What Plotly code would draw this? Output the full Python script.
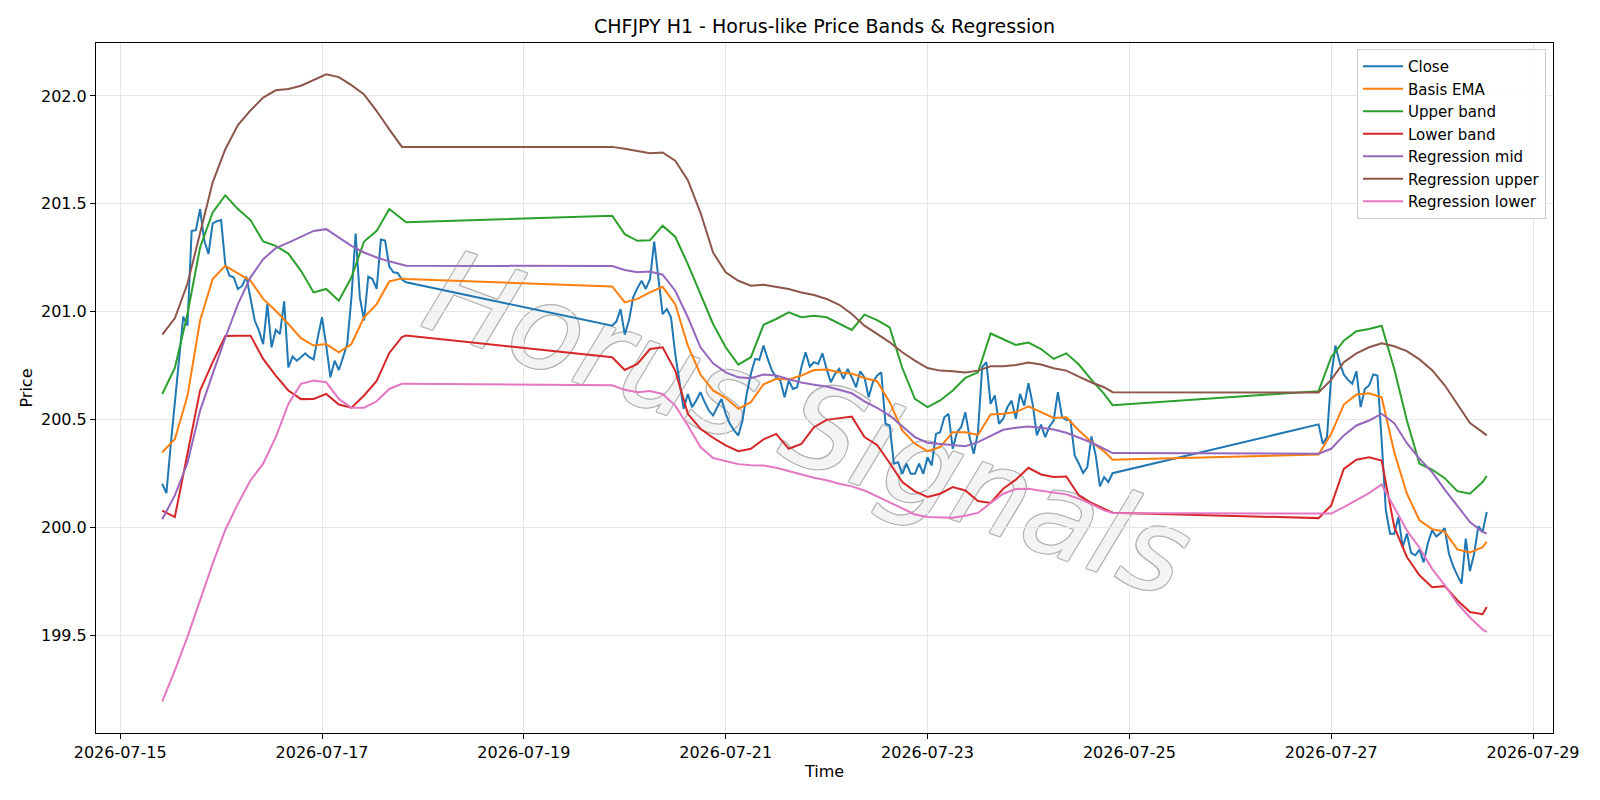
import pandas as pd
import plotly.graph_objects as go

# ---------------- data ----------------
base_time = pd.Timestamp("2026-07-15 00:00")

# hourly Close, three trading segments (hour offsets from 2026-07-15 00:00)
close_segments = [(10, 68), (117, 236), (285, 325)]
close_values = [
    # 07-15 10:00 .. 07-17 20:00
    200.204, 200.161, 200.38, 200.58, 200.79, 200.978, 200.936, 201.375, 201.378, 201.476,
    201.33, 201.268, 201.41, 201.42, 201.425, 201.22, 201.167, 201.16, 201.106, 201.12,
    201.163, 201.067, 200.96, 200.913, 200.85, 201.036, 200.836, 200.916, 200.898, 201.049,
    200.743, 200.793, 200.774, 200.79, 200.808, 200.79, 200.78, 200.882, 200.975, 200.844,
    200.697, 200.774, 200.731, 200.79, 200.852, 201.067, 201.363, 201.067, 200.96, 201.163,
    201.152, 201.106, 201.335, 201.33, 201.21, 201.183, 201.18, 201.15, 201.137,
    # 07-19 21:00 .. 07-24 20:00
    200.936, 200.955, 201.013, 200.895, 200.96, 201.067, 201.11, 201.144, 201.106, 201.152,
    201.325, 201.16, 200.99, 201.013, 200.975, 200.805, 200.682, 200.551, 200.62, 200.559,
    200.59, 200.628, 200.582, 200.543, 200.52, 200.559, 200.597, 200.528, 200.482, 200.451,
    200.428, 200.497, 200.62, 200.713, 200.782, 200.778, 200.844, 200.782, 200.728, 200.697,
    200.682, 200.605, 200.682, 200.643, 200.651, 200.744, 200.813, 200.747, 200.767, 200.759,
    200.808, 200.736, 200.674, 200.713, 200.736, 200.69, 200.736, 200.697, 200.651, 200.725,
    200.697, 200.605, 200.674, 200.705, 200.72, 200.482, 200.474, 200.297, 200.304, 200.25,
    200.297, 200.25, 200.25, 200.297, 200.25, 200.327, 200.289, 200.435, 200.443, 200.512,
    200.528, 200.366, 200.443, 200.466, 200.535, 200.42, 200.343, 200.443, 200.744, 200.767,
    200.574, 200.613, 200.482, 200.505, 200.559, 200.589, 200.505, 200.62, 200.566, 200.67,
    200.574, 200.428, 200.478, 200.42, 200.469, 200.497, 200.628, 200.512, 200.5, 200.497,
    200.335, 200.297, 200.254, 200.281, 200.423, 200.335, 200.192, 200.235, 200.212, 200.253,
    # 07-26 21:00 .. 07-28 13:00
    200.479, 200.389, 200.42, 200.7, 200.844, 200.767, 200.71, 200.685, 200.667, 200.725,
    200.559, 200.643, 200.659, 200.71, 200.705, 200.404, 200.081, 199.973, 199.973, 200.05,
    199.911, 199.973, 199.884, 199.873, 199.899, 199.84, 199.93, 199.988, 199.96, 199.976,
    199.998, 199.88, 199.823, 199.78, 199.742, 199.95, 199.8, 199.88, 200.008, 199.98,
    200.073,
]

# sample hours used for the smooth band / regression series
band_hours = (
    [10, 13, 16, 19, 22, 25, 28, 31, 34, 37, 40, 43, 46, 49, 52, 55, 58, 61, 64, 67, 68]
    + [117, 120, 123, 126, 129, 132, 135, 138, 141, 144, 147, 150, 153, 156, 159, 162, 165,
       168, 171, 174, 177, 180, 183, 186, 189, 192, 195, 198, 201, 204, 207, 210, 213, 216,
       219, 222, 225, 228, 231, 234, 236]
    + [285, 288, 291, 294, 297, 300, 303, 306, 309, 312, 315, 318, 321, 324, 325]
)

basis_ema = [
    200.35, 200.41, 200.61, 200.96, 201.152, 201.213, 201.178, 201.144, 201.06, 201.005,
    200.944, 200.878, 200.844, 200.851, 200.813, 200.851, 200.975, 201.036, 201.141, 201.155, 201.152,
    201.118, 201.044, 201.06, 201.09, 201.116, 201.036, 200.844, 200.71, 200.636, 200.602,
    200.551, 200.582, 200.665, 200.69, 200.687, 200.705, 200.731, 200.733, 200.72, 200.714,
    200.694, 200.679, 200.582, 200.451, 200.389, 200.355, 200.374, 200.443, 200.443, 200.43,
    200.525, 200.528, 200.536, 200.562, 200.536, 200.509, 200.512, 200.451, 200.397, 200.354, 200.315,
    200.34, 200.435, 200.571, 200.617, 200.623, 200.605, 200.35, 200.158, 200.035, 199.994,
    199.982, 199.9, 199.886, 199.911, 199.935,
]
upper_band = [
    200.62, 200.74, 200.99, 201.298, 201.46, 201.54, 201.476, 201.425, 201.326, 201.306,
    201.27, 201.19, 201.09, 201.106, 201.052, 201.16, 201.326, 201.375, 201.476, 201.43, 201.415,
    201.445, 201.36, 201.329, 201.332, 201.399, 201.348, 201.221, 201.083, 200.944, 200.836,
    200.756, 200.79, 200.94, 200.967, 200.998, 200.975, 200.982, 200.975, 200.944, 200.916,
    200.987, 200.962, 200.928, 200.74, 200.597, 200.559, 200.59, 200.636, 200.694, 200.72,
    200.9, 200.875, 200.847, 200.858, 200.828, 200.782, 200.808, 200.756, 200.685, 200.62, 200.568,
    200.633, 200.79, 200.867, 200.91, 200.921, 200.936, 200.736, 200.497, 200.297, 200.27,
    200.23, 200.17, 200.158, 200.212, 200.24,
]
lower_band = [
    200.08, 200.05, 200.343, 200.636, 200.767, 200.888, 200.89, 200.89, 200.782, 200.705,
    200.636, 200.596, 200.597, 200.62, 200.571, 200.556, 200.613, 200.68, 200.81, 200.883, 200.89,
    200.79, 200.731, 200.759, 200.828, 200.836, 200.728, 200.528, 200.459, 200.417, 200.382,
    200.355, 200.366, 200.41, 200.435, 200.366, 200.389, 200.466, 200.5, 200.509, 200.515,
    200.42, 200.384, 200.3, 200.212, 200.169, 200.143, 200.158, 200.189, 200.173, 200.124,
    200.115, 200.181, 200.223, 200.278, 200.247, 200.235, 200.238, 200.15, 200.115, 200.09, 200.07,
    200.045, 200.104, 200.273, 200.315, 200.327, 200.312, 200.004, 199.865, 199.78, 199.725,
    199.73, 199.665, 199.61, 199.6, 199.634,
]
regression_mid = [
    200.04, 200.15, 200.30, 200.543, 200.713, 200.88, 201.036, 201.16, 201.244, 201.295,
    201.321, 201.348, 201.375, 201.383, 201.345, 201.306, 201.275, 201.252, 201.234, 201.218, 201.214,
    201.212, 201.194, 201.184, 201.187, 201.172, 201.098, 200.975, 200.836, 200.762, 200.72,
    200.697, 200.693, 200.71, 200.705, 200.688, 200.673, 200.663, 200.654, 200.639, 200.623,
    200.586, 200.556, 200.52, 200.47, 200.42, 200.394, 200.389, 200.386, 200.378, 200.397,
    200.426, 200.454, 200.463, 200.469, 200.463, 200.455, 200.44, 200.417, 200.395, 200.366, 200.346,
    200.343, 200.366, 200.428, 200.474, 200.497, 200.528, 200.485, 200.392, 200.32, 200.258,
    200.177, 200.1, 200.027, 199.981, 199.973,
]
regression_upper = [
    200.895, 200.97, 201.13, 201.36, 201.6, 201.753, 201.865, 201.933, 201.992, 202.026,
    202.032, 202.047, 202.072, 202.1, 202.087, 202.05, 202.007, 201.93, 201.845, 201.764, 201.764,
    201.764, 201.755, 201.745, 201.735, 201.738, 201.70, 201.61, 201.46, 201.275, 201.183,
    201.144, 201.121, 201.126, 201.116, 201.106, 201.09, 201.078, 201.06, 201.033, 200.99,
    200.936, 200.898, 200.859, 200.813, 200.774, 200.74, 200.728, 200.725, 200.719, 200.728,
    200.748, 200.748, 200.754, 200.765, 200.756, 200.739, 200.728, 200.7, 200.673, 200.651, 200.628,
    200.627, 200.685, 200.767, 200.808, 200.836, 200.855, 200.841, 200.818, 200.78, 200.73,
    200.66, 200.57, 200.485, 200.443, 200.428,
]
regression_lower = [
    199.195, 199.34, 199.495, 199.665, 199.834, 199.99, 200.112, 200.22, 200.297, 200.42,
    200.574, 200.667, 200.682, 200.674, 200.597, 200.556, 200.556, 200.586, 200.643, 200.667, 200.667,
    200.66, 200.639, 200.628, 200.634, 200.62, 200.566, 200.474, 200.374, 200.323, 200.31,
    200.295, 200.29, 200.289, 200.278, 200.263, 200.246, 200.232, 200.22, 200.204, 200.192,
    200.173, 200.146, 200.119, 200.089, 200.062, 200.05, 200.047, 200.047, 200.056, 200.069,
    200.115, 200.158, 200.18, 200.181, 200.172, 200.163, 200.155, 200.135, 200.11, 200.081, 200.069,
    200.066, 200.066, 200.096, 200.127, 200.161, 200.201, 200.096, 199.988, 199.908, 199.81,
    199.735, 199.65, 199.585, 199.529, 199.518,
]

x_tick_dates = ["2026-07-15", "2026-07-17", "2026-07-19", "2026-07-21",
                "2026-07-23", "2026-07-25", "2026-07-27", "2026-07-29"]
y_tick_values = [199.5, 200.0, 200.5, 201.0, 201.5, 202.0]

# ---------------- build ----------------
close_hours = [h for a, b in close_segments for h in range(a, b + 1)]
close_time = [base_time + pd.Timedelta(hours=h) for h in close_hours]
band_time = [base_time + pd.Timedelta(hours=h) for h in band_hours]

series = [
    ("Close", close_time, close_values, "#1f77b4"),
    ("Basis EMA", band_time, basis_ema, "#ff7f0e"),
    ("Upper band", band_time, upper_band, "#2ca02c"),
    ("Lower band", band_time, lower_band, "#d62728"),
    ("Regression mid", band_time, regression_mid, "#9467bd"),
    ("Regression upper", band_time, regression_upper, "#8c564b"),
    ("Regression lower", band_time, regression_lower, "#e377c2"),
]

fig = go.Figure()
for name, xs, ys, col in series:
    fig.add_trace(go.Scatter(x=xs, y=ys, mode="lines", name=name,
                             line=dict(color=col, width=2)))

W, H = 1600, 800
L, R, T, B = 96, 47, 43, 67

fig.update_layout(
    width=W, height=H,
    margin=dict(l=L, r=R, t=T, b=B),
    paper_bgcolor="white", plot_bgcolor="white",
    font=dict(family="DejaVu Sans", size=16, color="black"),
    title=dict(text="CHFJPY H1 - Horus-like Price Bands & Regression",
               x=0.5, xref="paper", xanchor="center",
               y=1 - 26.5 / H, yref="container", yanchor="middle",
               font=dict(size=19, color="black")),
    legend=dict(x=0.9952, y=0.9913, xanchor="right", yanchor="top",
                bgcolor="rgba(255,255,255,0.85)", bordercolor="#cccccc", borderwidth=1,
                font=dict(size=15), itemwidth=40),
    showlegend=True,
)

fig.update_xaxes(
    type="date",
    range=["2026-07-14 18:15", "2026-07-29 04:45"],
    tickvals=x_tick_dates, tickformat="%Y-%m-%d",
    ticks="outside", ticklen=5, tickcolor="black", tickfont=dict(size=16),
    showline=True, linecolor="black", linewidth=1, mirror=True,
    showgrid=True, gridcolor="#e6e6e6", gridwidth=1,
    zeroline=False,
    title=dict(text="Time", standoff=4, font=dict(size=16)),
)
fig.update_yaxes(
    range=[199.05, 202.245],
    tickvals=y_tick_values, tickformat=".1f",
    ticks="outside", ticklen=5, tickcolor="black", tickfont=dict(size=16),
    showline=True, linecolor="black", linewidth=1, mirror=True,
    showgrid=True, gridcolor="#e6e6e6", gridwidth=1,
    zeroline=False,
    title=dict(text="Price", standoff=4, font=dict(size=16)),
)

# watermark (hollow grey text behind the grid and the traces)
cx = (811 - L) / (W - L - R)
cy = (H - B - 416) / (H - T - B)
outline = ",".join(f"{dx}px {dy}px 0 #b4b4b4" for dx, dy in
                   [(-1, -1), (1, -1), (-1, 1), (1, 1), (0, 1), (1, 0), (-1, 0), (0, -1)])
fig.add_shape(
    type="rect", xref="paper", yref="paper",
    x0=cx - 0.05, x1=cx + 0.05, y0=cy - 0.05, y1=cy + 0.05,
    line=dict(width=0), fillcolor="rgba(0,0,0,0)", layer="below",
    label=dict(text="Horus Signals", textposition="middle center", textangle=20,
               font=dict(family="DejaVu Sans", size=117, color="#f4f4f4",
                         style="italic", shadow=outline)),
)

fig.write_html("out.html")
